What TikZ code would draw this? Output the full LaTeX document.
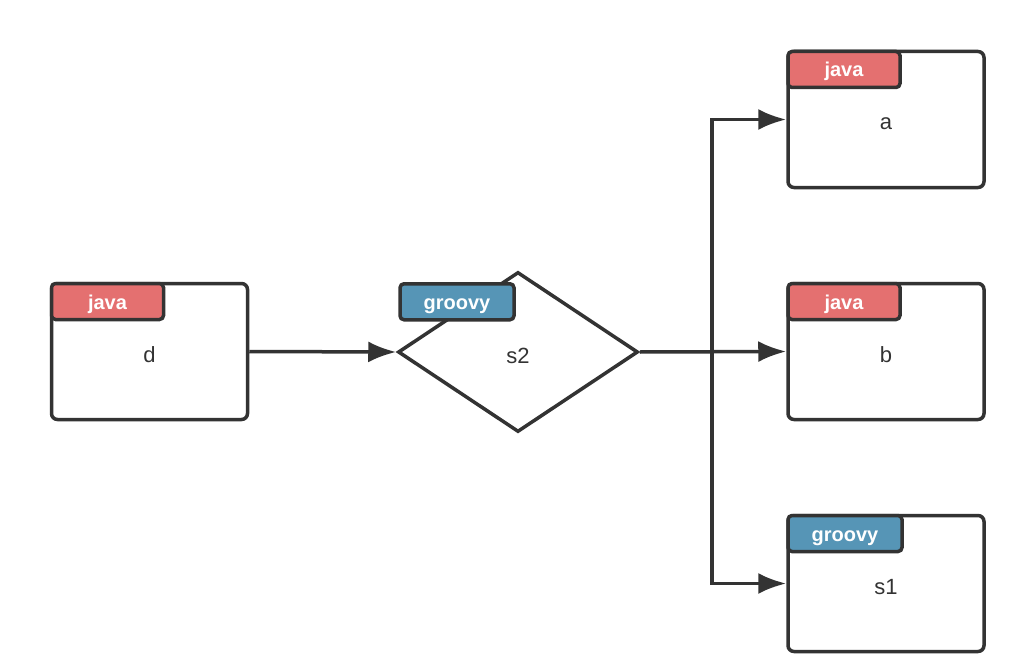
\documentclass[tikz,border=0pt]{standalone}
\usepackage{fontspec}
\setmainfont{Liberation Sans}
\usepackage{tikz}
\usetikzlibrary{arrows.meta, shapes.geometric, calc, positioning}
\definecolor{lineGray}{RGB}{51,51,51}
\definecolor{javaRed}{RGB}{228,112,112}
\definecolor{groovyBlue}{RGB}{86,149,182}
\tikzset{
    taskBox/.style={rectangle, draw=lineGray, line width=3.5pt, rounded corners=6pt, fill=white, minimum width=196pt, minimum height=136pt, inner sep=0pt, text=lineGray, text height=21pt, text depth=0pt, font=\fontsize{22}{26}\selectfont},
    switchNode/.style={diamond, draw=lineGray, line width=3.5pt, fill=white, minimum width=240pt, minimum height=160pt, inner sep=0pt, text=lineGray, text height=22pt, text depth=0pt, font=\fontsize{22}{26}\selectfont},
    tag/.style={rectangle, draw=lineGray, line width=3.5pt, rounded corners=4pt, minimum height=36pt, inner sep=0pt, text=white, text height=15pt, text depth=0pt, font=\bfseries\fontsize{20}{24}\selectfont},
    javaTag/.style={tag, fill=javaRed, minimum width=112pt},
    groovyTag/.style={tag, fill=groovyBlue, minimum width=114pt},
    flowEdge/.style={-{Latex[length=28pt, width=21pt]}, draw=lineGray, line width=3.5pt},
}
\newcommand{\drawTask}[5]{
    % box with its language tag in the top left corner
    \node[taskBox] (#1) at (#2) {#3};
    \node[#4, anchor=north west] (#1tag) at (#1.north west) {#5};
}

\begin{document}
\begin{tikzpicture}[x=1pt, y=-1pt]
    \useasboundingbox (0, 0) rectangle (1036, 658);

    % tasks
    \drawTask{d}{149.5, 351.5}{d}{javaTag}{java}
    \drawTask{a}{886, 119.5}{a}{javaTag}{java}
    \drawTask{b}{886, 351.5}{b}{javaTag}{java}
    \drawTask{s1}{886, 583.5}{s1}{groovyTag}{groovy}

    % switch
    \node[switchNode] (s2) at (518, 352) {s2};
    \node[groovyTag, anchor=north west] (s2tag) at ($(s2.west) + (2, -70)$) {groovy};

    % connectors
    \coordinate (split) at (712, 352);
    \draw[flowEdge] (d.east) -- (s2.west);
    \draw[flowEdge] (s2.east) -- (b.west);
    \draw[flowEdge] (split) |- (a.west);
    \draw[flowEdge] (split) |- (s1.west);

\end{tikzpicture}
\end{document}
